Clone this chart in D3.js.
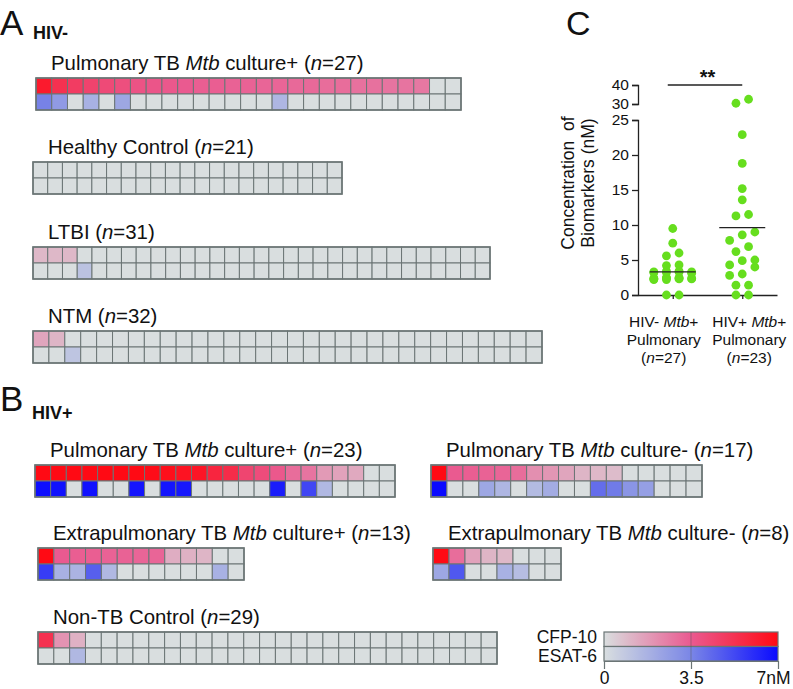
<!DOCTYPE html>
<html><head><meta charset="utf-8">
<script src="https://cdn.jsdelivr.net/npm/d3@7"></script>
<style>
html,body{margin:0;padding:0;background:#fff;}
svg{display:block;font-family:"Liberation Sans",Arial,Helvetica,sans-serif;}
text{white-space:pre;}
</style></head><body>
<svg id="chart" width="793" height="689"></svg>
<script>
// ================= DATA =================
const markers = ["CFP-10", "ESAT-6"];

// Panel A (HIV-)
const a1Title = "Pulmonary TB <i>Mtb</i> culture+ (<i>n</i>=27)";
const a1CFP  = [6.3,5.3,4.8,4.5,4.2,4.0,3.8,3.7,3.6,3.5,3.4,3.4,3.3,3.3,3.2,3.2,3.1,3.1,3.0,3.0,2.9,2.9,2.8,2.8,2.7,0,0];
const a1ESAT = [3.6,2.7,0,1.8,0,2.2,0,0,0,0,0,0,0,0,0,1.6,0,0,0,0,0,0,0,0,0,0,0];

const a2Title = "Healthy Control (<i>n</i>=21)";
const a2CFP  = [0,0,0,0,0,0,0,0,0,0,0,0,0,0,0,0,0,0,0,0,0];
const a2ESAT = [0,0,0,0,0,0,0,0,0,0,0,0,0,0,0,0,0,0,0,0,0];

const a3Title = "LTBI (<i>n</i>=31)";
const a3CFP  = [1.0,1.0,1.0,0,0,0,0,0,0,0,0,0,0,0,0,0,0,0,0,0,0,0,0,0,0,0,0,0,0,0,0];
const a3ESAT = [0,0,0,1.1,0,0,0,0,0,0,0,0,0,0,0,0,0,0,0,0,0,0,0,0,0,0,0,0,0,0,0];

const a4Title = "NTM (<i>n</i>=32)";
const a4CFP  = [1.5,1.1,0,0,0,0,0,0,0,0,0,0,0,0,0,0,0,0,0,0,0,0,0,0,0,0,0,0,0,0,0,0];
const a4ESAT = [0,0,1.0,0,0,0,0,0,0,0,0,0,0,0,0,0,0,0,0,0,0,0,0,0,0,0,0,0,0,0,0,0];

// Panel B (HIV+)
const b1Title = "Pulmonary TB <i>Mtb</i> culture+ (<i>n</i>=23)";
const b1CFP  = [7,7,7,7,7,7,7,6.9,6.8,6.6,6.5,5.8,5.5,4.4,4.1,3.6,3.0,2.8,1.8,1.6,1.4,0,0];
const b1ESAT = [6.9,6.8,0,6.8,0,0,6.7,0,6.7,6.6,0,0,0,0,0,6.5,0,5.3,1.5,0,0,0,0];

const b2Title = "Pulmonary TB <i>Mtb</i> culture- (<i>n</i>=17)";
const b2CFP  = [7,3.5,3.4,3.3,3.2,3.0,2.1,1.9,1.5,1.1,1.0,0.9,0,0,0,0,0];
const b2ESAT = [7,0,0,2.2,1.6,0,1.4,2.0,0,0,4.2,3.8,2.9,2.5,0,0,0];

const b3Title = "Extrapulmonary TB <i>Mtb</i> culture+ (<i>n</i>=13)";
const b3CFP  = [7,3.5,3.4,3.4,3.3,3.3,3.2,3.2,1.3,1.2,1.1,0,0];
const b3ESAT = [5.6,1.8,1.7,4.6,1.5,0,0,0,0,0,0,1.8,0];

const b4Title = "Extrapulmonary TB <i>Mtb</i> culture- (<i>n</i>=8)";
const b4CFP  = [7,3.0,1.6,1.1,1.0,0,0,0];
const b4ESAT = [2.2,4.8,0,0,1.8,1.3,0,0];

const b5Title = "Non-TB Control (<i>n</i>=29)";
const b5CFP  = [5.3,2.0,1.2,0,0,0,0,0,0,0,0,0,0,0,0,0,0,0,0,0,0,0,0,0,0,0,0,0,0];
const b5ESAT = [0,0,1.5,0,0,0,0,0,0,0,0,0,0,0,0,0,0,0,0,0,0,0,0,0,0,0,0,0,0];

// Legend
const legendTicks = [0, 3.5, 7];
const legendTickLabels = ["0", "3.5", "7nM"];

// Panel C
const cGroups = ["HIV- Mtb+ Pulmonary", "HIV+ Mtb+ Pulmonary"];
const cLabels = [["HIV- <i>Mtb</i>+", "Pulmonary", "(<i>n</i>=27)"],
                 ["HIV+ <i>Mtb</i>+", "Pulmonary", "(<i>n</i>=23)"]];
const cHIVneg = [9.5,7.4,6.0,5.6,4.3,4.2,3.4,3.3,3.2,2.5,2.4,2.3,2.2,0,0,3.3,3.2,3.4,3.1,3.3,2.4,2.3,2.4,2.5,2.2,2.4,2.3];
const cHIVpos = [32.5,30.4,22.9,18.8,15.2,13.6,11.5,11.3,9.0,8.6,7.8,6.9,6.2,5.0,4.9,4.3,4.0,3.0,2.8,1.4,1.4,0,0];
const cLowTicks = [0,5,10,15,20,25];
const cHighTicks = [30,40];
const cSignif = "**";

// ================= DRAWING =================
const svg = d3.select("#chart");
const ink = "#111";
const gridStroke = "#6b7575";
const zeroFill = "#d9dedf";

const cfpColor = d3.scaleLinear().domain([0,3.5,7]).range([zeroFill,"#ea5a90","#ff0a14"]).clamp(true);
const esatColor = d3.scaleLinear().domain([0,3.5,7]).range([zeroFill,"#7a86e6","#0a0aff"]).clamp(true);

function rich(sel, str) {
  str.split(/(<i>.*?<\/i>)/).filter(s => s.length).forEach(s => {
    const m = s.match(/^<i>(.*)<\/i>$/);
    sel.append("tspan").text(m ? m[1] : s).attr("font-style", m ? "italic" : null);
  });
  return sel;
}

function letter(x, y, t, size, weight) {
  svg.append("text").attr("x", x).attr("y", y).attr("font-size", size)
    .attr("font-weight", weight || "normal").attr("fill", ink).text(t);
}
letter(0, 35, "A", 35);
letter(33, 39, "HIV-", 18, "bold");
letter(0, 411, "B", 35);
letter(32, 419, "HIV+", 18, "bold");
letter(566, 35, "C", 34);

const heatmaps = [
  {title: a1Title, cfp: a1CFP, esat: a1ESAT, box: {x0: 36, x1: 461, y0: 78}},
  {title: a2Title, cfp: a2CFP, esat: a2ESAT, box: {x0: 33, x1: 342, y0: 162}},
  {title: a3Title, cfp: a3CFP, esat: a3ESAT, box: {x0: 33, x1: 490, y0: 247}},
  {title: a4Title, cfp: a4CFP, esat: a4ESAT, box: {x0: 33, x1: 542, y0: 331}},
  {title: b1Title, cfp: b1CFP, esat: b1ESAT, box: {x0: 35, x1: 395, y0: 465}},
  {title: b2Title, cfp: b2CFP, esat: b2ESAT, box: {x0: 431, x1: 702, y0: 465}},
  {title: b3Title, cfp: b3CFP, esat: b3ESAT, box: {x0: 38, x1: 244, y0: 548}},
  {title: b4Title, cfp: b4CFP, esat: b4ESAT, box: {x0: 433, x1: 561, y0: 548}},
  {title: b5Title, cfp: b5CFP, esat: b5ESAT, box: {x0: 38, x1: 497, y0: 632}}
];
const rowH = 16;

heatmaps.forEach(h => {
  const n = h.cfp.length;
  const x = d3.scaleBand().domain(d3.range(n)).range([h.box.x0, h.box.x1]);
  const y = d3.scaleBand().domain(markers).range([h.box.y0, h.box.y0 + rowH * markers.length]);
  const g = svg.append("g");
  const rows = [{m: markers[0], vals: h.cfp, col: cfpColor}, {m: markers[1], vals: h.esat, col: esatColor}];
  rows.forEach(r => {
    g.selectAll(null).data(r.vals).join("rect")
      .attr("x", (d, i) => x(i)).attr("y", y(r.m))
      .attr("width", x.bandwidth()).attr("height", y.bandwidth())
      .attr("fill", d => r.col(d)).attr("stroke", gridStroke).attr("stroke-width", 1);
  });
  g.append("rect").attr("x", h.box.x0).attr("y", y.range()[0])
    .attr("width", h.box.x1 - h.box.x0).attr("height", y.range()[1] - y.range()[0])
    .attr("fill", "none").attr("stroke", gridStroke).attr("stroke-width", 1.6);
  rich(g.append("text").attr("x", h.box.x0 + 15).attr("y", h.box.y0 - 8)
    .attr("font-size", 20.4).attr("fill", ink), h.title);
});

// ---------- Legend ----------
const lx = d3.scaleLinear().domain([0, 7]).range([604, 778]);
const defs = svg.append("defs");
[["gCFP", cfpColor], ["gESAT", esatColor]].forEach(([id, sc]) => {
  const gr = defs.append("linearGradient").attr("id", id).attr("x1", "0%").attr("x2", "100%");
  d3.range(0, 7.01, 0.25).forEach(v => gr.append("stop").attr("offset", (v / 7 * 100) + "%").attr("stop-color", sc(v)));
});
const lg = svg.append("g");
const lyTop = 632, lh = 14.5;
lg.append("rect").attr("x", lx(0)).attr("y", lyTop).attr("width", lx(7) - lx(0)).attr("height", lh)
  .attr("fill", "url(#gCFP)").attr("stroke", gridStroke).attr("stroke-width", 1.2);
lg.append("rect").attr("x", lx(0)).attr("y", lyTop + lh).attr("width", lx(7) - lx(0)).attr("height", lh)
  .attr("fill", "url(#gESAT)").attr("stroke", gridStroke).attr("stroke-width", 1.2);
lg.append("line").attr("x1", lx(3.5)).attr("x2", lx(3.5)).attr("y1", lyTop).attr("y2", lyTop + 2 * lh)
  .attr("stroke", "#555").attr("stroke-opacity", 0.45).attr("stroke-width", 1);
lg.append("text").attr("x", 597).attr("y", 643).attr("text-anchor", "end").attr("font-size", 17.5).attr("fill", ink).text(markers[0]);
lg.append("text").attr("x", 597).attr("y", 662).attr("text-anchor", "end").attr("font-size", 17.5).attr("fill", ink).text(markers[1]);
const lAxis = lg.append("g").attr("transform", `translate(0,${lyTop + 2 * lh})`)
  .call(d3.axisBottom(lx).tickValues(legendTicks).tickSize(8).tickSizeOuter(0)
    .tickFormat((d, i) => legendTickLabels[i]));
lAxis.select(".domain").attr("stroke", gridStroke);
lAxis.selectAll(".tick line").attr("stroke", gridStroke).attr("stroke-width", 1.2);
lAxis.selectAll(".tick text").attr("font-size", 17.5).attr("fill", ink).attr("font-family", null);
lAxis.selectAll(".tick:last-of-type text").attr("x", -5);

// ---------- Panel C ----------
const yLow = d3.scaleLinear().domain([0, 25]).range([295, 120]);
const yHigh = d3.scaleLinear().domain([30, 40]).range([104, 85]);
const yVal = v => v > 27.5 ? yHigh(v) : yLow(v);
const axX = 638;
const xC = d3.scalePoint().domain(cGroups).range([axX, 777]).padding(0.5);
const cg = svg.append("g");

function styleAxis(a) {
  a.select(".domain").attr("stroke", "#222").attr("stroke-width", 1.3);
  a.selectAll(".tick line").attr("stroke", "#222").attr("stroke-width", 1.3);
  a.selectAll(".tick text").attr("font-size", 15.5).attr("fill", ink).attr("font-family", null);
}
styleAxis(cg.append("g").attr("transform", `translate(${axX},0)`)
  .call(d3.axisLeft(yLow).tickValues(cLowTicks).tickSize(6).tickPadding(3)));
styleAxis(cg.append("g").attr("transform", `translate(${axX},0)`)
  .call(d3.axisLeft(yHigh).tickValues(cHighTicks).tickSize(6).tickPadding(3)));
styleAxis(cg.append("g").attr("transform", `translate(0,${yLow(0)})`)
  .call(d3.axisBottom(xC).tickSize(4).tickSizeOuter(0).tickFormat("")));

// y label
cg.append("text").attr("transform", "translate(574,183) rotate(-90)")
  .attr("text-anchor", "middle").attr("font-size", 17.5).attr("fill", ink).attr("word-spacing", 5).text("Concentration of");
cg.append("text").attr("transform", "translate(594,183) rotate(-90)")
  .attr("text-anchor", "middle").attr("font-size", 17.5).attr("fill", ink).text("Biomarkers (nM)");

// x labels
const labelShift = [-9, 7];
cGroups.forEach((gname, gi) => {
  cLabels[gi].forEach((line, li) => {
    rich(cg.append("text").attr("x", xC(gname) + labelShift[gi]).attr("y", 327 + li * 18)
      .attr("text-anchor", "middle").attr("font-size", 15.5).attr("fill", ink), line);
  });
});

// beeswarm
function swarm(vals, cx) {
  const pts = vals.map(v => ({v, py: yVal(v)})).sort((a, b) => b.py - a.py);
  const rowPx = 9, spacing = 12.6, maxCols = 4;
  let i = 0;
  while (i < pts.length) {
    let j = i;
    while (j < pts.length && pts[i].py - pts[j].py < rowPx) j++;
    const row = pts.slice(i, j), nc = Math.min(row.length, maxCols);
    row.forEach((p, r) => { p.px = cx + ((r % nc) - (nc - 1) / 2) * spacing; });
    i = j;
  }
  return pts;
}
[cHIVneg, cHIVpos].forEach((vals, gi) => {
  const cx = xC(cGroups[gi]);
  cg.append("g").selectAll("circle").data(swarm(vals, cx)).join("circle")
    .attr("cx", d => d.px).attr("cy", d => d.py).attr("r", 4.4).attr("fill", "#66de1e");
  const m = d3.mean(vals);
  cg.append("line").attr("x1", cx - 23).attr("x2", cx + 23).attr("y1", yVal(m)).attr("y2", yVal(m))
    .attr("stroke", "#222").attr("stroke-width", 1.4);
});

// significance
cg.append("line").attr("x1", xC(cGroups[0]) - 5).attr("x2", xC(cGroups[1])).attr("y1", yHigh(40)).attr("y2", yHigh(40))
  .attr("stroke", "#222").attr("stroke-width", 1.4);
cg.append("text").attr("x", (xC(cGroups[0]) + xC(cGroups[1])) / 2).attr("y", yHigh(40) - 1)
  .attr("text-anchor", "middle").attr("font-size", 20).attr("font-weight", "bold").attr("fill", ink).text(cSignif);
</script>
</body></html>
